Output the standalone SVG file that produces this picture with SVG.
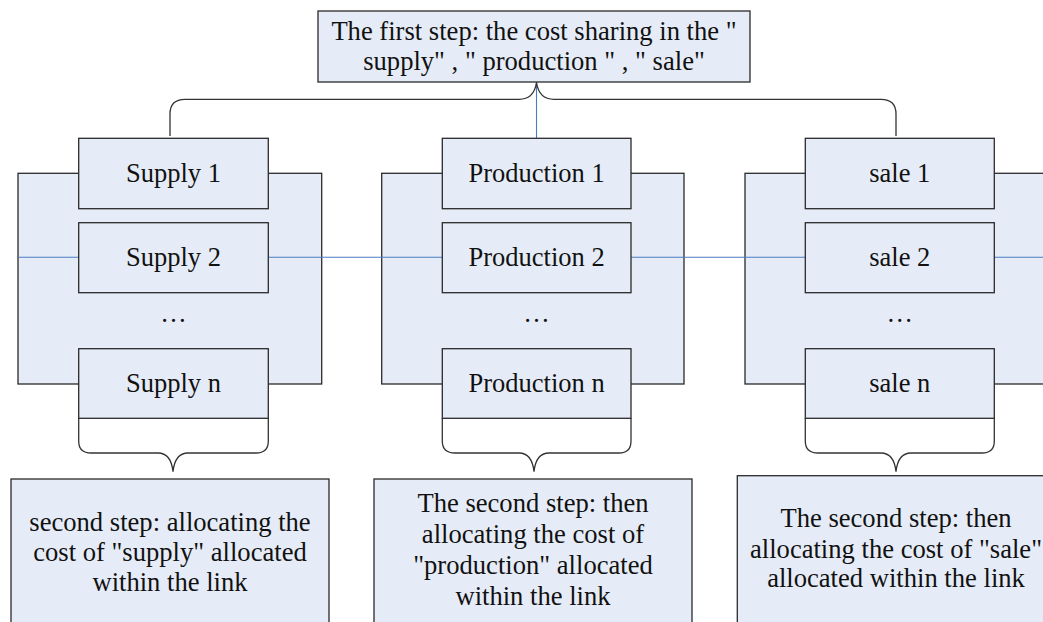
<svg xmlns="http://www.w3.org/2000/svg" width="1043" height="622" viewBox="0 0 1043 622">
<style>
.box{fill:#E6ECF7;stroke:#2a2a2a;stroke-width:1.3}
.t{font-family:"Liberation Serif","Times New Roman",serif;font-size:26.6px;fill:#111;text-anchor:middle}
.lbl{font-family:"Liberation Serif","Times New Roman",serif;font-size:26.5px;fill:#111;text-anchor:middle}
.brace{fill:none;stroke:#333;stroke-width:1.3}
.blue{fill:none;stroke:#4a7cc4;stroke-width:1.1}
</style>
<rect width="1043" height="622" fill="#fff"/>

<g id="group-supply"><rect class="box" x="18" y="173.3" width="303.7" height="210.7"/></g>
<g id="group-production"><rect class="box" x="381.7" y="173.3" width="302.3" height="210.7"/></g>
<g id="group-sale"><rect class="box" x="745" y="173.3" width="320" height="210.7"/></g>

<g id="connectors">
<line class="blue" x1="18" y1="257.3" x2="1043" y2="257.3"/>
<line class="blue" x1="536.5" y1="82" x2="536.5" y2="138.3"/>
<path class="brace" d="M170,136 V114 Q170,99.3 185,99.3 H519 Q534,99.3 536.5,82.5 Q539,99.3 554,99.3 H881 Q896,99.3 896,114 V136"/>
<path class="brace" d="M78.7,418.3 V441 Q78.7,453 91,453 H158 Q171,453 173,471.7 Q175,453 188,453 H256 Q268.3,453 268.3,441 V418.3"/>
<path class="brace" d="M442.3,418.3 V441 Q442.3,453 455,453 H519 Q532,453 534,471.7 Q536,453 549,453 H619 Q631,453 631,441 V418.3"/>
<path class="brace" d="M805.3,418.3 V441 Q805.3,453 818,453 H881 Q894,453 896,471.7 Q898,453 911,453 H982 Q994.3,453 994.3,441 V418.3"/>
</g>

<g id="top">
<rect class="box" x="318" y="11" width="432" height="71"/>
<text class="t" x="534" y="40">The first step: the cost sharing in the "</text>
<text class="t" x="534" y="70">supply" , " production " , " sale"</text>
</g>

<g id="supply1"><rect class="box" x="78.7" y="138.3" width="189.6" height="70.4"/><text class="lbl" x="173.5" y="182">Supply 1</text></g>
<g id="supply2"><rect class="box" x="78.7" y="222.7" width="189.6" height="70"/><text class="lbl" x="173.5" y="266">Supply 2</text></g>
<g id="supply-dots"><text class="lbl" x="173.5" y="322">…</text></g>
<g id="supplyn"><rect class="box" x="78.7" y="348.7" width="189.6" height="69.6"/><text class="lbl" x="173.5" y="392">Supply n</text></g>

<g id="production1"><rect class="box" x="442.3" y="138.3" width="188.7" height="70.4"/><text class="lbl" x="536.6" y="182">Production 1</text></g>
<g id="production2"><rect class="box" x="442.3" y="222.7" width="188.7" height="70"/><text class="lbl" x="536.6" y="266">Production 2</text></g>
<g id="production-dots"><text class="lbl" x="536.6" y="322">…</text></g>
<g id="productionn"><rect class="box" x="442.3" y="348.7" width="188.7" height="69.6"/><text class="lbl" x="536.6" y="392">Production n</text></g>

<g id="sale1"><rect class="box" x="805.3" y="138.3" width="189" height="70.4"/><text class="lbl" x="899.8" y="182">sale 1</text></g>
<g id="sale2"><rect class="box" x="805.3" y="222.7" width="189" height="70"/><text class="lbl" x="899.8" y="266">sale 2</text></g>
<g id="sale-dots"><text class="lbl" x="899.8" y="322">…</text></g>
<g id="salen"><rect class="box" x="805.3" y="348.7" width="189" height="69.6"/><text class="lbl" x="899.8" y="392">sale n</text></g>

<g id="step2-supply">
<rect class="box" x="11" y="479" width="318" height="160"/>
<text class="t" x="170" y="531">second step: allocating the</text>
<text class="t" x="170" y="561">cost of "supply" allocated</text>
<text class="t" x="170" y="591">within the link</text>
</g>
<g id="step2-production">
<rect class="box" x="374" y="479" width="318" height="160"/>
<text class="t" x="533" y="512">The second step: then</text>
<text class="t" x="533" y="543">allocating the cost of</text>
<text class="t" x="533" y="574">"production" allocated</text>
<text class="t" x="533" y="605">within the link</text>
</g>
<g id="step2-sale">
<rect class="box" x="737.3" y="475.7" width="330" height="165"/>
<text class="t" x="896" y="527">The second step: then</text>
<text class="t" x="896" y="558">allocating the cost of "sale"</text>
<text class="t" x="896" y="587">allocated within the link</text>
</g>
</svg>
